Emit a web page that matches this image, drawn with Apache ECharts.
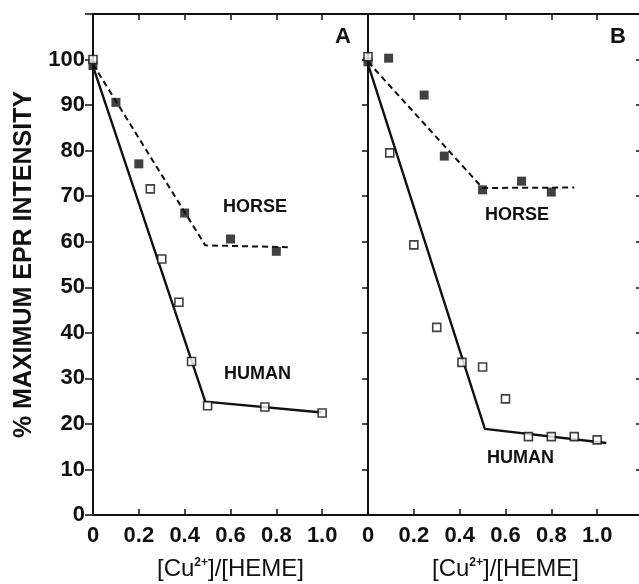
<!DOCTYPE html>
<html>
<head>
<meta charset="utf-8">
<script src="https://cdn.jsdelivr.net/npm/echarts@6/dist/echarts.min.js"></script>
<style>
  html, body { margin: 0; padding: 0; background: #fff; }
  #chart { width: 639px; height: 584px; }
</style>
</head>
<body>
<div id="chart"></div>
<script>
// ---- Panel A: measured points and fitted lines ----
const horseA = [[0, 98.7], [0.1, 90.6], [0.2, 77.1], [0.4, 66.3], [0.6, 60.6], [0.8, 57.9]];
const humanA = [[0, 100], [0.25, 71.6], [0.3, 56.2], [0.375, 46.7], [0.43, 33.7], [0.5, 24.0], [0.75, 23.7], [1.0, 22.4]];
const horseFitA = [[0, 99], [0.49, 59.2], [0.85, 58.8]];
const humanFitA = [[0, 98.5], [0.49, 24.9], [1.0, 22.5]];

// ---- Panel B: measured points and fitted lines ----
const horseB = [[0, 99.5], [0.09, 100.3], [0.245, 92.2], [0.333, 78.8], [0.5, 71.4], [0.67, 73.3], [0.8, 70.9]];
const humanB = [[0, 100.6], [0.095, 79.5], [0.2, 59.3], [0.3, 41.2], [0.41, 33.5], [0.5, 32.5], [0.6, 25.5], [0.7, 17.2], [0.8, 17.2], [0.9, 17.2], [1.0, 16.5]];
const horseFitB = [[0, 99.5], [0.5, 71.8], [0.9, 71.9]];
const humanFitB = [[0, 99], [0.51, 18.9], [1.04, 15.8]];

// ---- Tick labels ----
const xTickLabels = ['0', '0.2', '0.4', '0.6', '0.8', '1.0'];
const yTickLabels = ['0', '10', '20', '30', '40', '50', '60', '70', '80', '90', '100'];

const FONT = '"Liberation Sans", Arial, Helvetica, sans-serif';
const INK = '#111';

const chart = echarts.init(document.getElementById('chart'), null, { renderer: 'canvas' });

function xLabel(v) {
  const i = Math.round(v / 0.2);
  return Math.abs(v - i * 0.2) < 1e-6 && xTickLabels[i] !== undefined ? xTickLabels[i] : '';
}
function yLabel(v) {
  const i = Math.round(v / 10);
  return yTickLabels[i] !== undefined ? yTickLabels[i] : '';
}

function xAxis(grid, pos, withLabels) {
  return {
    type: 'value', gridIndex: grid, position: pos,
    min: 0, max: 1.2, interval: 0.2,
    splitLine: { show: false },
    axisLine: { show: true, onZero: false, lineStyle: { color: INK, width: 2 } },
    axisTick: { show: true, inside: true, length: 6, lineStyle: { color: INK, width: 1.5 } },
    axisLabel: withLabels ? {
      show: true, margin: 10, formatter: xLabel,
      color: INK, fontFamily: FONT, fontWeight: 'bold', fontSize: 22
    } : { show: false },
    name: withLabels ? '[Cu{s|2+}]/[HEME]' : '',
    nameLocation: 'middle', nameGap: 42,
    nameTextStyle: {
      color: INK, fontFamily: FONT, fontSize: 24,
      rich: { s: { fontSize: 12, fontFamily: FONT, fontWeight: 'bold', color: INK, verticalAlign: 'top', padding: [0, 0, 10, 0] } }
    }
  };
}

function yAxis(grid, pos, tickInside, tickLen, withLabels) {
  return {
    type: 'value', gridIndex: grid, position: pos,
    min: 0, max: 110, interval: 10,
    splitLine: { show: false },
    axisLine: { show: true, onZero: false, lineStyle: { color: INK, width: 2 } },
    axisTick: { show: true, inside: tickInside, length: tickLen, lineStyle: { color: INK, width: 1.5 } },
    axisLabel: withLabels ? {
      show: true, margin: 8, formatter: yLabel,
      color: INK, fontFamily: FONT, fontWeight: 'bold', fontSize: 22
    } : { show: false },
    name: withLabels ? '% MAXIMUM EPR INTENSITY' : '',
    nameLocation: 'middle', nameRotate: 90, nameGap: 56,
    nameTextStyle: { color: INK, fontFamily: FONT, fontWeight: 'bold', fontSize: 25 }
  };
}

function fitLine(data, xi, yi, dashed) {
  return {
    type: 'line', xAxisIndex: xi, yAxisIndex: yi, data: data,
    showSymbol: false, symbol: 'none', silent: true, z: 2,
    lineStyle: { color: INK, width: dashed ? 2 : 2.4, type: dashed ? [6, 4] : 'solid' }
  };
}
function filled(data, xi, yi) {
  return {
    type: 'scatter', xAxisIndex: xi, yAxisIndex: yi, data: data, z: 3,
    symbol: 'rect', symbolSize: 9, itemStyle: { color: INK }
  };
}
function open(data, xi, yi) {
  return {
    type: 'scatter', xAxisIndex: xi, yAxisIndex: yi, data: data, z: 4,
    symbol: 'rect', symbolSize: 8,
    itemStyle: { color: '#fff', borderColor: INK, borderWidth: 1.6 }
  };
}

function label(text, x, y, size) {
  return {
    type: 'text', x: x, y: y, z: 10,
    style: { text: text, fill: INK, font: 'bold ' + size + 'px ' + FONT, verticalAlign: 'middle', align: 'left' }
  };
}

chart.setOption({
  animation: false,
  backgroundColor: '#fff',
  grid: [
    { left: 93, top: 14, width: 275, height: 501, outerBoundsMode: 'none', containLabel: false },
    { left: 368, top: 14, width: 275, height: 501, outerBoundsMode: 'none', containLabel: false }
  ],
  xAxis: [
    xAxis(0, 'bottom', true),
    xAxis(0, 'top', false),
    xAxis(1, 'bottom', true),
    xAxis(1, 'top', false)
  ],
  yAxis: [
    yAxis(0, 'left', false, 8, true),
    yAxis(0, 'right', true, 6, false),
    yAxis(1, 'left', false, 6, false),
    yAxis(1, 'right', true, 7, false)
  ],
  series: [
    fitLine(horseFitA, 0, 0, true),
    fitLine(humanFitA, 0, 0, false),
    open(humanA, 0, 0),
    filled(horseA, 0, 0),
    fitLine(horseFitB, 2, 2, true),
    fitLine(humanFitB, 2, 2, false),
    open(humanB, 2, 2),
    filled(horseB, 2, 2)
  ],
  graphic: [
    label('HORSE', 223, 207, 18),
    label('HUMAN', 224, 374, 18),
    label('A', 335, 37, 22),
    label('HORSE', 485, 215, 18),
    label('HUMAN', 487, 458, 18),
    label('B', 610, 37, 22)
  ]
});
</script>
</body>
</html>
